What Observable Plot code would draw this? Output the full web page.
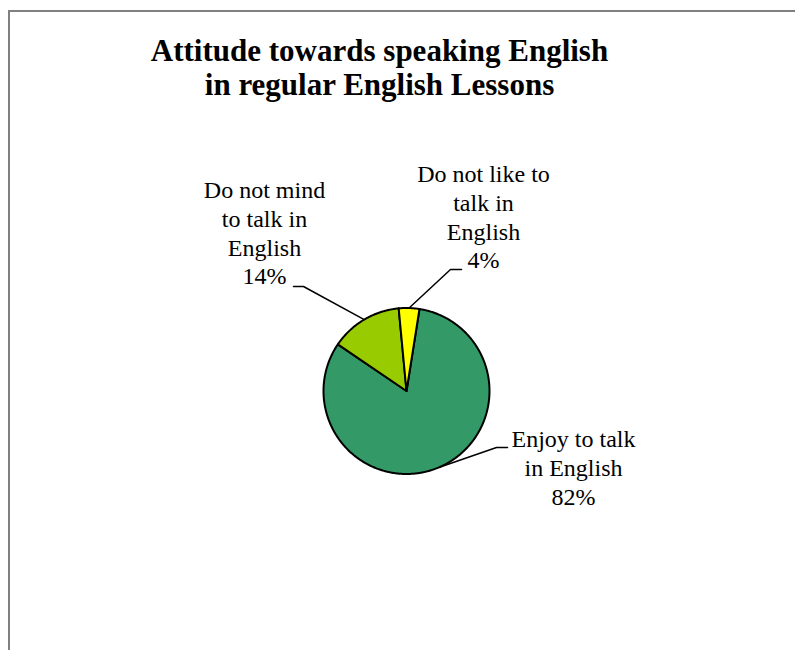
<!DOCTYPE html>
<html><head><meta charset="utf-8">
<script src="https://cdn.jsdelivr.net/npm/d3@7"></script>
<script src="https://cdn.jsdelivr.net/npm/@observablehq/plot@0.6"></script>
<style>
html,body{margin:0;padding:0;background:#fff}
body{width:795px;height:650px;overflow:hidden;position:relative;font-family:"Liberation Serif",serif}
#frame{position:absolute;left:8px;top:10px;width:900px;height:800px;border-top:2px solid #808080;border-left:2px solid #808080;box-sizing:border-box}
#title{position:absolute;left:0;top:34px;width:759px;text-align:center;font-weight:bold;font-size:31px;line-height:34px;color:#000}
#chart{position:absolute;left:0;top:120px}
</style></head><body>
<div id="frame"></div>
<div id="title">Attitude towards speaking English<br>in regular English Lessons</div>
<div id="chart"></div>
<script>
// ---- data ----
const categories = ["Enjoy to talk in English", "Do not mind to talk in English", "Do not like to talk in English"];
const values = [82, 14, 4];
const labelLines = [["Enjoy to talk", "in English"], ["Do not mind", "to talk in", "English"], ["Do not like to", "talk in", "English"]];
const colors = ["#339966", "#99CC00", "#FFFF00"];

// ---- layout ----
const W = 795, H = 530, TOP = 120;
const cx = 406, cy = 390.5 - TOP, R = 83;
const startDeg = 9;
// label placement relative to pie centre (layout, not data)
const labelLayout = [
  {dx: 167, top: 426, elbowDx: 90, elbowDy: 56.5, endDx: 101},
  {dx: -142, top: 177, elbowDx: -103, elbowDy: -104.5, endDx: -113},
  {dx: 77, top: 161, elbowDx: 44, elbowDy: -121.5, endDx: 55}
];

const total = d3.sum(values);
const arcs = d3.pie().sort(null).value(d => d)
  .startAngle(startDeg * Math.PI / 180)
  .endAngle(startDeg * Math.PI / 180 + 2 * Math.PI)(values);

const slicePts = [];
arcs.forEach((a, i) => {
  const cat = categories[i];
  slicePts.push({cat, x: cx, y: cy});
  const n = Math.max(4, Math.ceil((a.endAngle - a.startAngle) / (Math.PI / 360)));
  for (let k = 0; k <= n; k++) {
    const t = a.startAngle + (a.endAngle - a.startAngle) * k / n;
    slicePts.push({cat, x: cx + R * Math.sin(t), y: cy - R * Math.cos(t)});
  }
  slicePts.push({cat, x: cx, y: cy});
});

const leaderPts = [];
const labels = [];
arcs.forEach((a, i) => {
  const L = labelLayout[i];
  const mid = (a.startAngle + a.endAngle) / 2;
  const cat = categories[i];
  leaderPts.push({cat, x: cx + R * Math.sin(mid), y: cy - R * Math.cos(mid)});
  leaderPts.push({cat, x: cx + L.elbowDx, y: cy + L.elbowDy});
  leaderPts.push({cat, x: cx + L.endDx, y: cy + L.elbowDy});
  const pct = Math.round(values[i] / total * 100);
  labels.push({cat, x: cx + L.dx, y: L.top - TOP, text: labelLines[i].join("\n") + "\n" + pct + "%"});
});

const chart = Plot.plot({
  width: W, height: H,
  margin: 0,
  x: {domain: [0, W], range: [0, W], axis: null},
  y: {domain: [0, H], range: [0, H], axis: null},
  color: {domain: categories, range: colors},
  style: {background: "transparent"},
  marks: [
    Plot.line(leaderPts, {x: "x", y: "y", z: "cat", stroke: "#000", strokeWidth: 1.5, curve: "linear"}),
    Plot.line(slicePts, {x: "x", y: "y", z: "cat", fill: "cat", stroke: "#000", strokeWidth: 2, strokeLinejoin: "round", curve: "linear"}),
    Plot.text(labels, {x: "x", y: "y", text: "text", textAnchor: "middle", lineAnchor: "top", lineHeight: 1.2, fontSize: 24, fontFamily: "Liberation Serif", fill: "#000"})
  ]
});
document.getElementById("chart").appendChild(chart);
</script>
</body></html>
